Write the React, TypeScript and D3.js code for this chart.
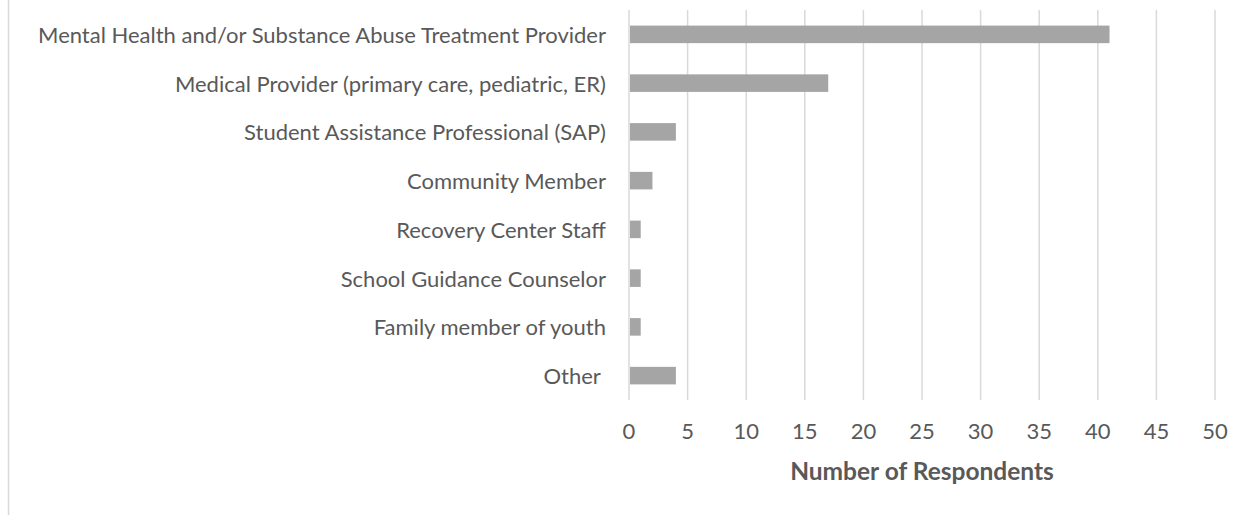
import React from "react";
import * as d3 from "d3";

const categories = [
  "Mental Health and/or Substance Abuse Treatment Provider",
  "Medical Provider (primary care, pediatric, ER)",
  "Student Assistance Professional (SAP)",
  "Community Member",
  "Recovery Center Staff",
  "School Guidance Counselor",
  "Family member of youth",
  "Other ",
];
const values = [41, 17, 4, 2, 1, 1, 1, 4];
const xTicks = [0, 5, 10, 15, 20, 25, 30, 35, 40, 45, 50];
const axisTitle = "Number of Respondents";

const W = 1255;
const H = 515;
const left = 629;
const right = 1215;
const top = 10;
const bottom = 400;
const font = "Lato, 'Open Sans', sans-serif";
const textColor = "#595959";

export default function App() {
  const x = d3.scaleLinear().domain([0, 50]).range([left, right]);
  const y = d3.scaleBand<string>().domain(categories).range([top, bottom]).paddingInner(0.64).paddingOuter(0.32);

  return (
    <svg width={W} height={H} style={{ position: "absolute", left: 0, top: 0, background: "#fff" }}>
      <line x1={8.5} x2={8.5} y1={0} y2={H} stroke="#d9d9d9" strokeWidth={1.5} />
      {xTicks.map((t) => (
        <line key={"g" + t} x1={x(t)} x2={x(t)} y1={top} y2={bottom} stroke="#d9d9d9" strokeWidth={1.5} />
      ))}
      {categories.map((c, i) => (
        <rect key={c} x={x(0) + 1} y={y(c)!} width={x(values[i]) - x(0) - 1} height={y.bandwidth()} fill="#a5a5a5" />
      ))}
      {categories.map((c) => (
        <text
          key={"l" + c}
          x={606}
          y={y(c)! + y.bandwidth() / 2}
          textAnchor="end"
          dominantBaseline="central"
          fontFamily={font}
          fontSize={22}
          fill={textColor}
          style={{ whiteSpace: "pre" }}
        >
          {c}
        </text>
      ))}
      {xTicks.map((t) => (
        <text
          key={"t" + t}
          x={x(t)}
          y={430}
          textAnchor="middle"
          dominantBaseline="central"
          fontFamily={font}
          fontSize={22}
          fill={textColor}
        >
          {t}
        </text>
      ))}
      <text
        x={(left + right) / 2}
        y={470}
        textAnchor="middle"
        dominantBaseline="central"
        fontFamily={font}
        fontSize={24.5}
        fontWeight="bold"
        fill={textColor}
      >
        {axisTitle}
      </text>
    </svg>
  );
}
